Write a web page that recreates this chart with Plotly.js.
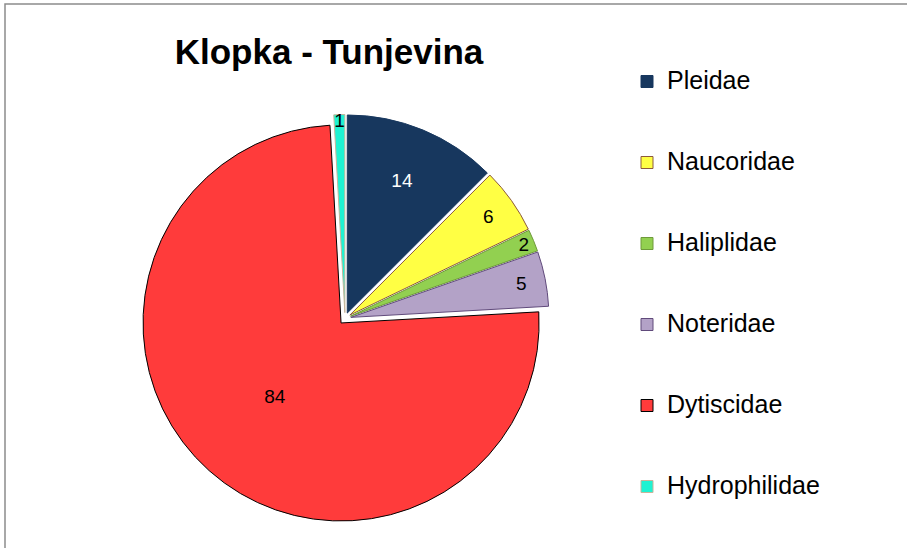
<!DOCTYPE html>
<html>
<head>
<meta charset="utf-8">
<script src="https://cdn.plot.ly/plotly-3.0.1.min.js"></script>
<style>html,body{margin:0;padding:0;background:#fff;}#chart{width:907px;height:548px;}</style>
</head>
<body>
<div id="chart"></div>
<script>
const families = ["Pleidae", "Naucoridae", "Haliplidae", "Noteridae", "Dytiscidae", "Hydrophilidae"];
const counts = [14, 6, 2, 5, 84, 1];
const sliceColors = ["#17375E", "#FFFF44", "#92D050", "#B3A2C7", "#FF3B3B", "#1FF2D2"];
const sliceLines = ["#17375E", "#8C5A3C", "#6E9A3A", "#604A7B", "#000000", "#C8B49A"];
const textColors = ["#FFFFFF", "#000000", "#000000", "#000000", "#000000", "#000000"];
const chartTitle = "Klopka - Tunjevina";

const legendLabels = families.map(f => '<br><span style="font-size:25px">' + f + '</span><br>');

const trace = {
  type: 'pie',
  labels: legendLabels,
  values: counts,
  sort: false,
  direction: 'clockwise',
  rotation: 0,
  pull: counts.map(() => 0.03),
  marker: {colors: sliceColors, line: {color: sliceLines, width: 1}},
  textinfo: 'value',
  textposition: 'inside',
  insidetextorientation: 'horizontal',
  textfont: {family: 'Liberation Sans, Arial, sans-serif', size: 19, color: textColors},
  hoverinfo: 'label+value',
  domain: {x: [0.1555, 0.6053], y: [0.0465, 0.791]},
  showlegend: true
};

const layout = {
  width: 907, height: 548,
  margin: {l: 0, r: 0, t: 0, b: 0},
  paper_bgcolor: '#FFFFFF',
  font: {family: 'Liberation Sans, Arial, sans-serif', color: '#000000'},
  title: {text: '<b>' + chartTitle + '</b>', font: {size: 35, family: 'Liberation Sans, Arial, sans-serif', color: '#000'},
          x: 329 / 907, xanchor: 'center', y: 1 - 52 / 548, yanchor: 'middle'},
  uniformtext: {mode: 'show', minsize: 19},
  legend: {x: 627 / 907, xanchor: 'left', y: 1 - 36 / 548, yanchor: 'top',
           font: {size: 20, family: 'Liberation Sans, Arial, sans-serif', color: '#000'},
           bgcolor: 'rgba(0,0,0,0)', valign: 'middle', traceorder: 'normal'},
  shapes: [{type: 'rect', xref: 'paper', yref: 'paper', x0: 5 / 907, x1: 1.05, y0: -0.05, y1: 1 - 4 / 548,
            line: {color: '#8C8C8C', width: 1.5}, fillcolor: 'rgba(0,0,0,0)', layer: 'below'}]
};

Plotly.newPlot('chart', [trace], layout, {displayModeBar: false, staticPlot: true});
</script>
</body>
</html>
